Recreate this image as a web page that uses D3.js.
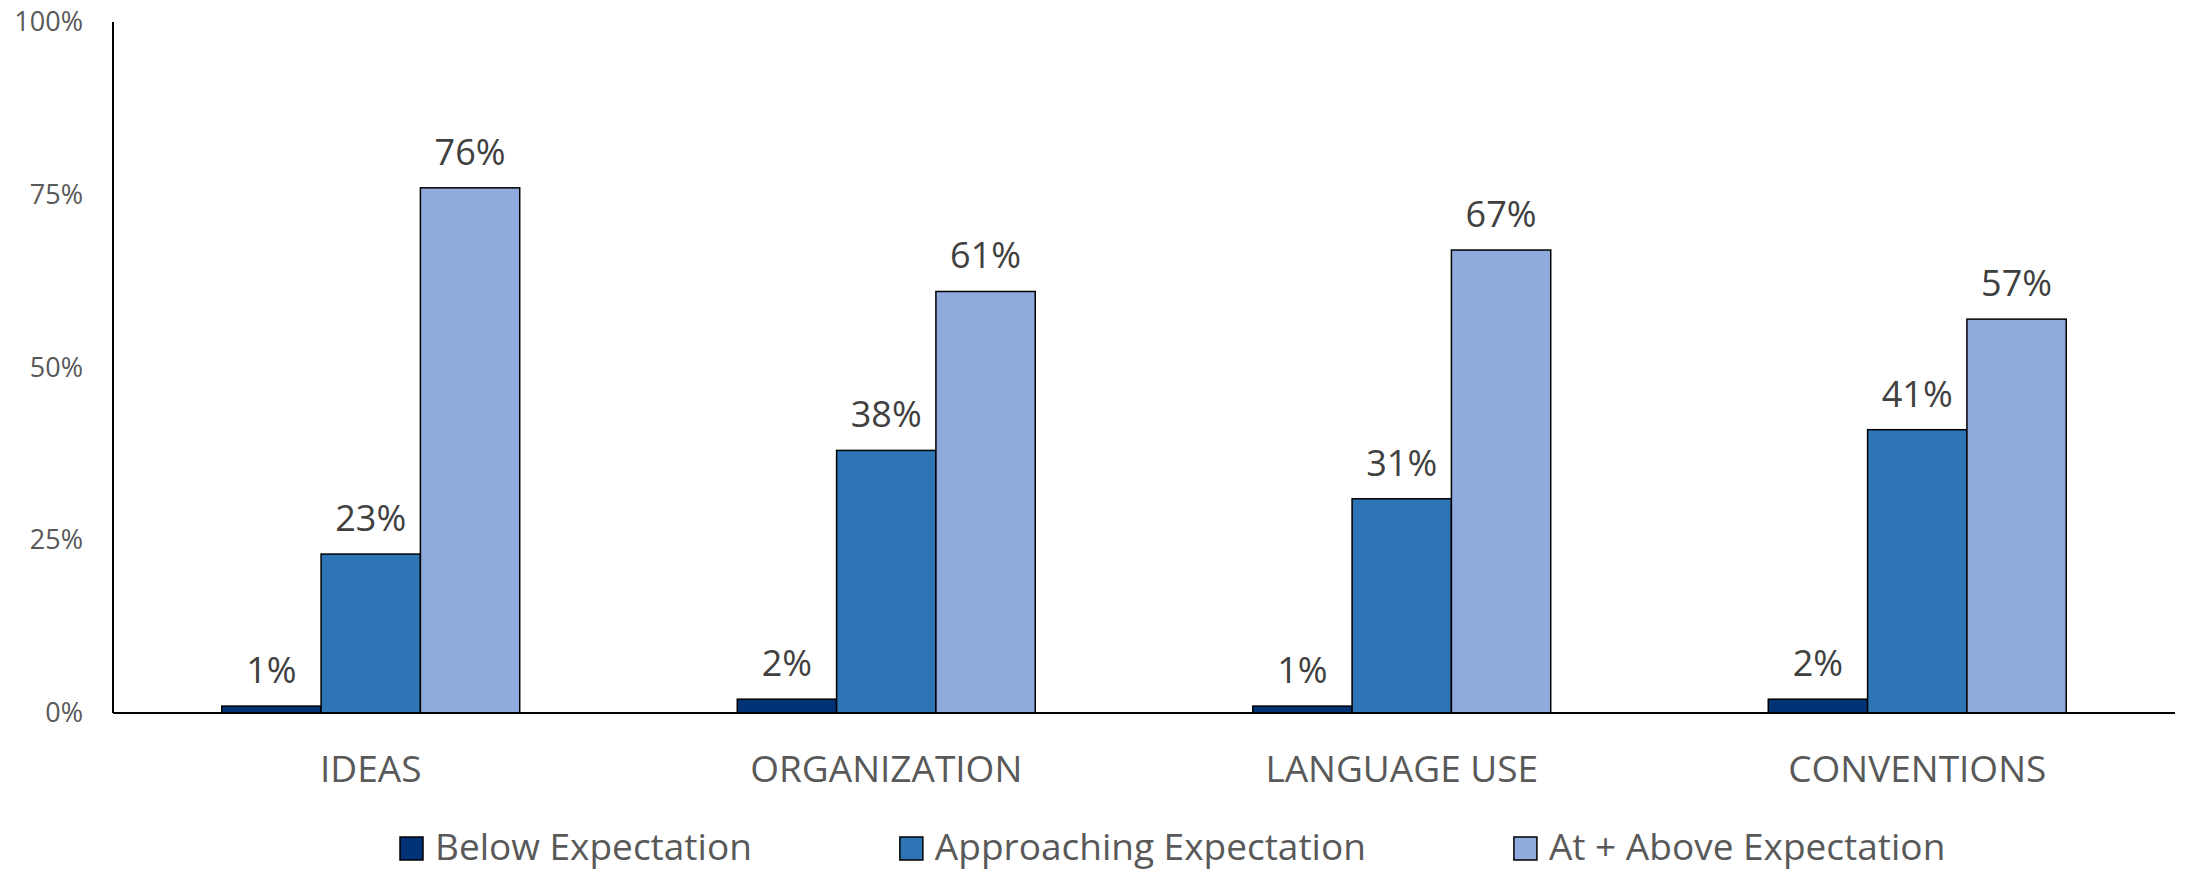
<!DOCTYPE html>
<html>
<head>
<meta charset="utf-8">
<script src="https://cdn.jsdelivr.net/npm/d3@7"></script>
<style>
  body { margin: 0; background: #fff; }
  svg { display: block; font-family: "Open Sans", sans-serif; }
</style>
</head>
<body>
<svg id="chart" width="2187" height="870"></svg>
<script>
const categories = ["IDEAS", "ORGANIZATION", "LANGUAGE USE", "CONVENTIONS"];
const seriesNames = ["Below Expectation", "Approaching Expectation", "At + Above Expectation"];
const below = [1, 2, 1, 2];
const approaching = [23, 38, 31, 41];
const atAbove = [76, 61, 67, 57];
const yTicks = [0, 25, 50, 75, 100];
const colors = ["#003375", "#2E75B6", "#8FAADC"];

const seriesValues = [below, approaching, atAbove];

const svg = d3.select("#chart");
const margin = { left: 113, right: 12, top: 22, bottom: 157 };
const width = 2187 - margin.left - margin.right;
const height = 870 - margin.top - margin.bottom;

const g = svg.append("g").attr("transform", `translate(${margin.left},${margin.top})`);

const x0 = d3.scaleBand().domain(categories).range([0, width])
    .paddingInner(0.422).paddingOuter(0.211);
const x1 = d3.scaleBand().domain(seriesNames).range([0, x0.bandwidth()]);
const y = d3.scaleLinear().domain([0, 100]).range([height, 0]);

// y tick labels (no gridlines)
g.append("g")
    .call(d3.axisLeft(y).tickValues(yTicks).tickSize(0).tickPadding(30).tickFormat(d => d + "%"))
    .call(s => s.select(".domain").remove())
    .selectAll("text")
    .attr("font-size", 27)
    .attr("font-family", "Open Sans")
    .attr("fill", "#595959");

// bars
const groups = g.selectAll(".grp")
    .data(categories)
    .join("g")
    .attr("transform", d => `translate(${x0(d)},0)`);

groups.selectAll("rect")
    .data((d, i) => seriesNames.map((s, k) => ({ s, v: seriesValues[k][i], k })))
    .join("rect")
    .attr("x", d => x1(d.s))
    .attr("y", d => y(d.v))
    .attr("width", x1.bandwidth())
    .attr("height", d => y(0) - y(d.v))
    .attr("fill", d => colors[d.k])
    .attr("stroke", "#000")
    .attr("stroke-width", 1.5);

groups.selectAll("text")
    .data((d, i) => seriesNames.map((s, k) => ({ s, v: seriesValues[k][i] })))
    .join("text")
    .attr("x", d => x1(d.s) + x1.bandwidth() / 2)
    .attr("y", d => y(d.v) - 23)
    .attr("text-anchor", "middle")
    .attr("font-size", 36)
    .attr("fill", "#404040")
    .text(d => d.v + "%");

// axes lines
g.append("line").attr("x1", 0).attr("x2", 0).attr("y1", 0).attr("y2", height)
    .attr("stroke", "#000").attr("stroke-width", 2);
g.append("line").attr("x1", 0).attr("x2", width).attr("y1", height).attr("y2", height)
    .attr("stroke", "#000").attr("stroke-width", 2);

// category labels
g.append("g")
    .attr("transform", `translate(0,${height})`)
    .call(d3.axisBottom(x0).tickSize(0).tickPadding(0))
    .call(s => s.select(".domain").remove())
    .selectAll("text")
    .attr("dy", 0)
    .attr("y", 69)
    .attr("font-size", 37)
    .attr("font-family", "Open Sans")
    .attr("fill", "#595959");

// legend
const legend = svg.append("g");
let lx = 400;
seriesNames.forEach((name, k) => {
    const item = legend.append("g").attr("transform", `translate(${lx},0)`);
    item.append("rect")
        .attr("x", 0).attr("y", 837)
        .attr("width", 23).attr("height", 23)
        .attr("fill", colors[k])
        .attr("stroke", "#000").attr("stroke-width", 1.5);
    const t = item.append("text")
        .attr("x", 35).attr("y", 860)
        .attr("font-size", 37)
        .attr("fill", "#595959")
        .text(name);
    lx += 35 + t.node().getComputedTextLength() + 148;
});
</script>
</body>
</html>
